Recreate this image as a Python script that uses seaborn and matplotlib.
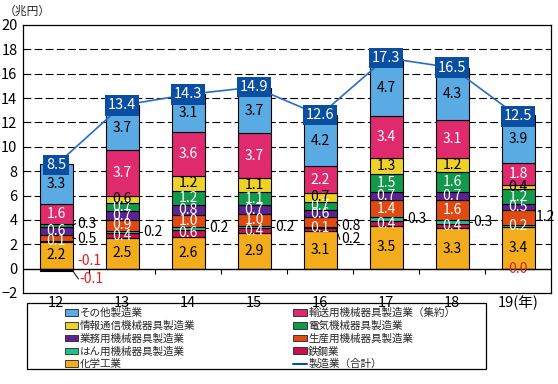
#!/usr/bin/env python3
# Manufacturing output by industry, stacked bars with total line
import numpy as np
import matplotlib
matplotlib.use('Agg')
import matplotlib.pyplot as plt
from matplotlib.patches import Patch, Rectangle
from matplotlib.lines import Line2D
import seaborn as sns

# Data {{{
years = ['12', '13', '14', '15', '16', '17', '18', '19(年)']

chem = [2.2, 2.5, 2.6, 2.9, 3.1, 3.5, 3.3, 3.4]
steel = [0.1, 0.4, 0.6, 0.4, 0.2, 0.4, 0.4, 0.0]
general = [-0.1, 0.2, 0.2, 0.2, 0.1, 0.3, 0.3, 0.2]
production = [0.5, 0.9, 1.0, 1.0, 0.8, 1.4, 1.6, 1.2]
business = [0.6, 0.7, 0.8, 0.7, 0.6, 0.7, 0.7, 0.5]
electric = [0.3, 0.7, 1.2, 1.1, 0.7, 1.5, 1.6, 1.2]
ict = [-0.1, 0.6, 1.2, 1.1, 0.7, 1.3, 1.2, 0.4]
transport = [1.6, 3.7, 3.6, 3.7, 2.2, 3.4, 3.1, 1.8]
other = [3.3, 3.7, 3.1, 3.7, 4.2, 4.7, 4.3, 3.9]
total = [8.5, 13.4, 14.3, 14.9, 12.6, 17.3, 16.5, 12.5]

# (name, values, colour, text colour), bottom to top
layers = [
    ('化学工業', chem, '#f2ac1c', 'black'),
    ('鉄鋼業', steel, '#c8104e', 'white'),
    ('はん用機械器具製造業', general, '#1fbf8f', 'white'),
    ('生産用機械器具製造業', production, '#e04a12', 'white'),
    ('業務用機械器具製造業', business, '#5a2391', 'white'),
    ('電気機械器具製造業', electric, '#12994a', 'white'),
    ('情報通信機械器具製造業', ict, '#eed22a', 'black'),
    ('輸送用機械器具製造業（集約）', transport, '#df2b6e', 'white'),
    ('その他製造業', other, '#5aaae4', 'black'),
]
total_name = '製造業（合計）'

# labels put beside the bar: (layer, year index) -> (dx, dy, leader)
callouts = {
    ('電気機械器具製造業', 0): (0.32, 0.15, True),
    ('生産用機械器具製造業', 0): (0.32, -0.1, True),
    ('はん用機械器具製造業', 0): (0.33, 0.7, False),
    ('情報通信機械器具製造業', 0): (0.36, -0.7, True),
    ('はん用機械器具製造業', 1): (0.32, 0.0, True),
    ('はん用機械器具製造業', 2): (0.32, 0.0, True),
    ('はん用機械器具製造業', 3): (0.32, 0.0, True),
    ('生産用機械器具製造業', 4): (0.32, -0.3, True),
    ('鉄鋼業', 4): (0.32, -0.8, True),
    ('はん用機械器具製造業', 5): (0.32, 0.0, True),
    ('はん用機械器具製造業', 6): (0.32, 0.0, True),
    ('生産用機械器具製造業', 7): (0.27, 0.0, False),
}
# }}}

sns.set_style('white')
plt.rcParams['font.family'] = ['Noto Sans CJK JP', 'DejaVu Sans']

W, H = 558, 384
fig = plt.figure(figsize=(W / 100, H / 100), dpi=100)
ax = fig.add_axes([23 / W, 1 - 293 / H, (551 - 23) / W, (293 - 25) / H])

x = np.arange(len(years))
bw = 0.5
fs = 10
pos_bottom = np.zeros(len(years))
neg_bottom = np.zeros(len(years))

for name, vals, color, tcolor in layers:
    vals = np.array(vals)
    neg = vals <= 0
    bottom = np.where(neg, neg_bottom, pos_bottom)
    sns.barplot(x=years, y=vals, bottom=bottom, color=color, width=bw,
                edgecolor='black', linewidth=0.8, errorbar=None,
                saturation=1, ax=ax, zorder=3)
    centers = bottom + vals / 2
    for i, v in enumerate(vals):
        txt = '{:.1f}'.format(v)
        col = '#e0201a' if v <= 0 else tcolor
        key = (name, i)
        if key in callouts:
            dx, dy, leader = callouts[key]
            yt = centers[i] + dy
            if leader:
                ax.plot([i + bw / 2, i + dx - 0.02], [centers[i], yt],
                        color='black', lw=0.7, zorder=4)
            ax.text(i + dx, yt, txt, ha='left', va='center', fontsize=fs,
                    color=col if v <= 0 else 'black', zorder=6)
        else:
            ax.text(i, centers[i], txt, ha='center', va='center',
                    fontsize=fs, color=col, zorder=6)
    pos_bottom = np.where(neg, pos_bottom, pos_bottom + vals)
    neg_bottom = np.where(neg, neg_bottom + vals, neg_bottom)

# Total line with boxed labels
sns.lineplot(x=x, y=total, color='#2a6cc4', lw=1.2, ax=ax, zorder=5)
for i, t in enumerate(total):
    ax.text(i, t, '{:.1f}'.format(t), ha='center', va='center', fontsize=10.5,
            color='white', zorder=7,
            bbox=dict(boxstyle='square,pad=0.22', fc='#0a4ea2', ec='none'))

# Axes
ax.set_xlim(-0.5, len(years) - 0.5)
ax.set_ylim(-2, 20)
ax.set_yticks(np.arange(-2, 21, 2))
ax.set_xticks(x)
ax.set_xticklabels(years)
ax.tick_params(axis='both', length=0, labelsize=10.5, pad=2, colors='black')
ax.tick_params(axis='y', length=2, width=0.8, direction='out')
ax.set_xlabel('')
ax.set_ylabel('')
for yv in range(2, 20, 2):
    ax.axhline(yv, color='black', lw=0.8, ls=(0, (7, 3)), zorder=1)
ax.axhline(0, color='black', lw=1.0, zorder=4)
ax.vlines(x[:-1] + 0.5, -0.4, 0, color='black', lw=0.8, zorder=4)
for s in ax.spines.values():
    s.set_color('black')
    s.set_linewidth(0.9)

fig.text(4 / W, 1 - 11 / H, '（兆円）', fontsize=8.5, va='center', ha='left')

# Legend
handles = {name: Patch(fc=color, ec='#222222', lw=0.6) for name, _, color, _ in layers}
handles[total_name] = Line2D([], [], color='#0a4ea2', lw=1.5)
order = ['その他製造業', '情報通信機械器具製造業', '業務用機械器具製造業',
         'はん用機械器具製造業', '化学工業', '輸送用機械器具製造業（集約）',
         '電気機械器具製造業', '生産用機械器具製造業', '鉄鋼業', total_name]
fig.legend([handles[n] for n in order], order, ncol=2, frameon=False,
           loc='upper left', bbox_to_anchor=(65 / W, 1 - 308 / H),
           fontsize=7.6, handlelength=1.25, handleheight=0.6,
           handletextpad=0.15, columnspacing=9.3, labelspacing=0.24,
           borderpad=0, borderaxespad=0)
fig.patches.append(Rectangle((27 / W, 1 - 369 / H), 459 / W, 66 / H,
                             transform=fig.transFigure, fill=False,
                             ec='black', lw=0.9))

fig.savefig('out.png', dpi=100)
